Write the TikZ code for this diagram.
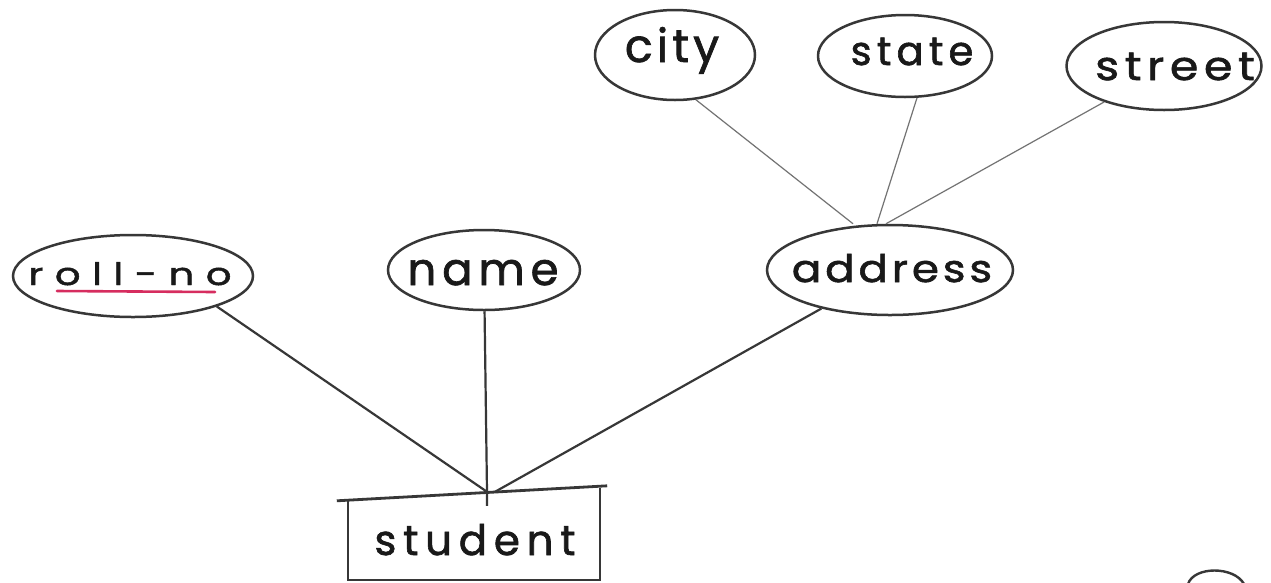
\documentclass[tikz,border=0pt]{standalone}
\usepackage{fontspec}
\setmainfont{Poppins}[FakeBold=1.5]
\usetikzlibrary{shapes.geometric}
\definecolor{pencil}{RGB}{55,55,55}
\definecolor{softpencil}{RGB}{115,115,115}
\definecolor{keyred}{RGB}{214,45,95}
\definecolor{ink}{RGB}{25,25,25}
\begin{document}
\begin{tikzpicture}[x=1pt,y=-1pt,
  attr/.style={ellipse, draw=pencil, line width=2.5pt, inner sep=0pt},
  % size, horizontal stretch, letter spacing
  txt/.style n args={3}{text=ink, inner sep=0pt, anchor=base,
      font=\fontsize{#1}{#1}\selectfont\addfontfeatures{FakeStretch=#2,LetterSpace=#3}},
  link/.style={draw=pencil, line width=2.2pt},
  sublink/.style={draw=softpencil, line width=1.2pt},
  boxline/.style={draw=pencil, line width=1.6pt},
]
\useasboundingbox (0,0) rectangle (1271,582);
\fill[white] (0,0) rectangle (1271,582);

% attributes of the entity
\node[attr, minimum width=240pt, minimum height=82pt] (rollno) at (133,276) {};
\node[txt={31}{1.3}{37}] (rollnoT) at (130,285) {roll-no};
\node[attr, minimum width=192pt, minimum height=80pt] (name) at (484,270) {};
\node[txt={45}{1.0}{13}] (nameT) at (483,285) {name};
\node[attr, minimum width=246pt, minimum height=90pt] (address) at (890,270) {};
\node[txt={38}{1.15}{10}] (addressT) at (892,282) {address};

% parts of the composite attribute
\node[attr, minimum width=160pt, minimum height=90pt] (city) at (675,55) {};
\node[txt={46}{1.0}{9}] (cityT) at (672,62) {city};
\node[attr, minimum width=174pt, minimum height=82pt] (state) at (905,56) {};
\node[txt={40}{1.0}{13}] (stateT) at (912,65) {state};
\node[attr, minimum width=195pt, minimum height=88pt] (street) at (1164,66) {};
\node[txt={40}{1.15}{14}] (streetT) at (1175,80) {street};

% the entity: open box with a slanted, heavier top stroke
\node[minimum width=252pt, minimum height=80pt, inner sep=0pt] (student) at (474,540) {};
\node[txt={42}{1.0}{16}] (studentT) at (475,555) {student};
\draw[boxline] (student.north west) -- (student.south west)
  -- (student.south east) -- ([yshift=12pt]student.north east);
\draw[pencil, line width=2.8pt]
  ([xshift=-11pt,yshift=-1pt]student.north west) -- ([xshift=7pt,yshift=14pt]student.north east);
\coordinate (hub) at ([xshift=13pt,yshift=8pt]student.north);

% key attribute underline
\draw[keyred, line width=2.6pt, line cap=round] (57,291) -- (215,292);

% connectors
\draw[link] (rollno.-20) -- (hub);
\draw[link] (name) -- (hub) -- ++(0,14);
\draw[link] (address) -- ([xshift=8pt]hub);
\draw[sublink] (city.-65) -- ([xshift=-37pt]address.north);
\draw[sublink] (state.-74) -- ([xshift=-13pt]address.north);
\draw[sublink] (street.211) -- ([xshift=-4pt]address.north);

% stray stroke at the lower right edge
\draw[pencil, line width=2.4pt] (1188,584) .. controls (1194,566) and (1234,566) .. (1244,584);
\end{tikzpicture}
\end{document}
